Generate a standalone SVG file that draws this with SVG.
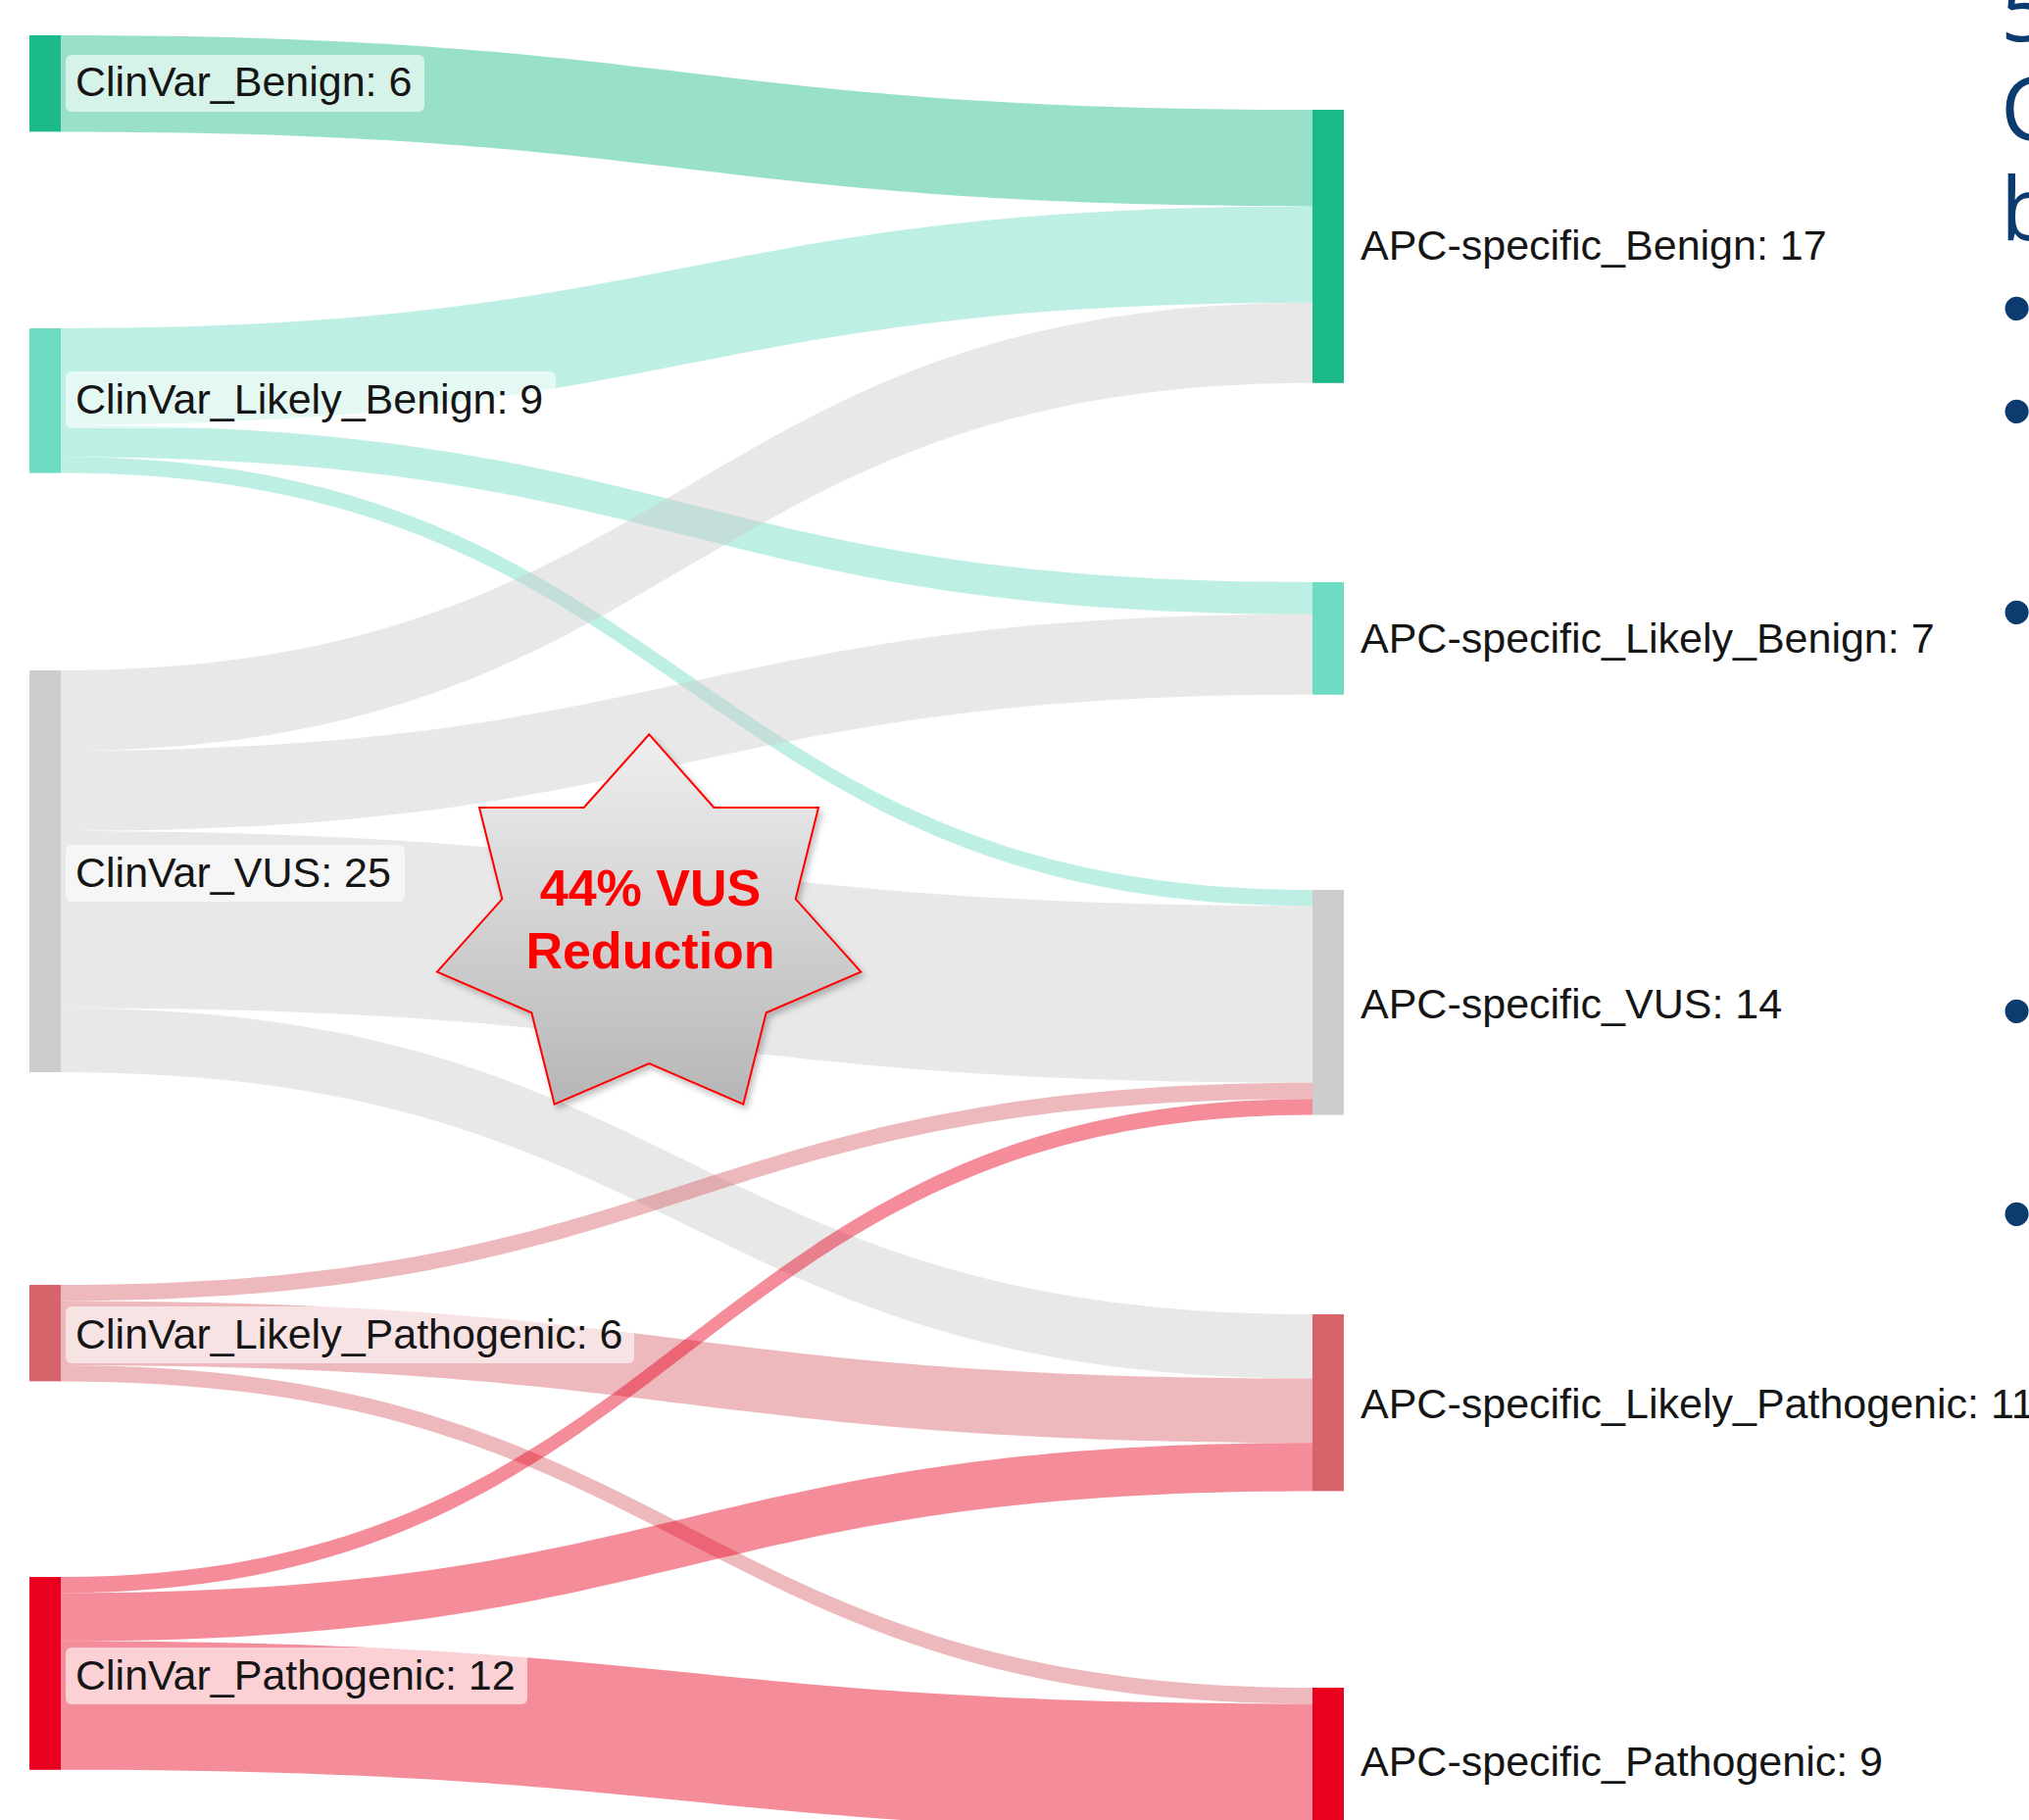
<svg xmlns="http://www.w3.org/2000/svg" width="2070" height="1857" viewBox="0 0 2070 1857">
  <defs>
    <linearGradient id="starGrad" x1="0" y1="749" x2="0" y2="1127" gradientUnits="userSpaceOnUse">
      <stop offset="0" stop-color="#efefef"/>
      <stop offset="1" stop-color="#b6b6b6"/>
    </linearGradient>
    <filter id="shadow" x="-10%" y="-10%" width="130%" height="130%">
      <feDropShadow dx="3" dy="4" stdDeviation="3" flood-color="#000" flood-opacity="0.25"/>
    </filter>
    <style>
      .lbl { font-family: "Liberation Sans", Arial, Helvetica, sans-serif; font-size: 43px; fill: #151515; }
      .lblbox { fill: #ffffff; fill-opacity: 0.6; }
      .link { fill-opacity: 0.45; stroke: none; }
      .c-b { fill: #1cba8b; }
      .c-lb { fill: #6ddcc3; }
      .c-v { fill: #cdcdcd; }
      .c-lp { fill: #d8646b; }
      .c-p { fill: #e9001f; }
      .slide { font-family: "Open Sans", "Noto Sans", sans-serif; font-size: 90px; fill: #0b3b6f; }
      .bullet { font-family: "Liberation Sans", Arial, sans-serif; font-size: 89px; fill: #0b3b6f; }
      .star-text { font-family: "Liberation Sans", Arial, sans-serif; font-size: 52px; font-weight: bold; fill: #ff0000; text-anchor: middle; }
    </style>
  </defs>
  <rect x="0" y="0" width="2070" height="1857" fill="#ffffff"/>

  <g id="connectors">
    <path class="link c-b" d="M62,36 C701,36 701,112 1339,112 L1339,210.4 C701,210.4 701,134.4 62,134.4 Z"/>
    <path class="link c-lb" d="M62,335 C701,335 701,210.4 1339,210.4 L1339,308.8 C701,308.8 701,433.4 62,433.4 Z"/>
    <path class="link c-lb" d="M62,433.4 C701,433.4 701,594 1339,594 L1339,626.8 C701,626.8 701,466.2 62,466.2 Z"/>
    <path class="link c-lb" d="M62,466.2 C701,466.2 701,908 1339,908 L1339,924.4 C701,924.4 701,482.6 62,482.6 Z"/>
    <path class="link c-v" d="M62,684 C701,684 701,308.8 1339,308.8 L1339,390.8 C701,390.8 701,766 62,766 Z"/>
    <path class="link c-v" d="M62,766 C701,766 701,626.8 1339,626.8 L1339,708.8 C701,708.8 701,848 62,848 Z"/>
    <path class="link c-v" d="M62,848 C701,848 701,924.4 1339,924.4 L1339,1104.8 C701,1104.8 701,1028.4 62,1028.4 Z"/>
    <path class="link c-v" d="M62,1028.4 C701,1028.4 701,1341 1339,1341 L1339,1406.6 C701,1406.6 701,1094 62,1094 Z"/>
    <path class="link c-lp" d="M62,1311 C701,1311 701,1104.8 1339,1104.8 L1339,1121.2 C701,1121.2 701,1327.4 62,1327.4 Z"/>
    <path class="link c-lp" d="M62,1327.4 C701,1327.4 701,1406.6 1339,1406.6 L1339,1472.2 C701,1472.2 701,1393 62,1393 Z"/>
    <path class="link c-lp" d="M62,1393 C701,1393 701,1722 1339,1722 L1339,1738.4 C701,1738.4 701,1409.4 62,1409.4 Z"/>
    <path class="link c-p" d="M62,1609 C701,1609 701,1121.2 1339,1121.2 L1339,1137.6 C701,1137.6 701,1625.4 62,1625.4 Z"/>
    <path class="link c-p" d="M62,1625.4 C701,1625.4 701,1472.2 1339,1472.2 L1339,1521.4 C701,1521.4 701,1674.6 62,1674.6 Z"/>
    <path class="link c-p" d="M62,1674.6 C701,1674.6 701,1738.4 1339,1738.4 L1339,1869.6 C701,1869.6 701,1805.8 62,1805.8 Z"/>
  </g>

  <g id="node-clinvar-benign">
    <rect class="c-b" x="30" y="36" width="32" height="98.4"/>
    <rect class="lblbox" x="67" y="56" width="366" height="58" rx="6"/>
    <text class="lbl" x="77" y="98">ClinVar_Benign: 6</text>
  </g>
  <g id="node-clinvar-likely-benign">
    <rect class="c-lb" x="30" y="335" width="32" height="147.6"/>
    <rect class="lblbox" x="67" y="379" width="500" height="58" rx="6"/>
    <text class="lbl" x="77" y="422">ClinVar_Likely_Benign: 9</text>
  </g>
  <g id="node-clinvar-vus">
    <rect class="c-v" x="30" y="684" width="32" height="410"/>
    <rect class="lblbox" x="67" y="862" width="346" height="58" rx="6"/>
    <text class="lbl" x="77" y="905">ClinVar_VUS: 25</text>
  </g>
  <g id="node-clinvar-likely-pathogenic">
    <rect class="c-lp" x="30" y="1311" width="32" height="98.4"/>
    <rect class="lblbox" x="67" y="1333" width="580" height="58" rx="6"/>
    <text class="lbl" x="77" y="1376">ClinVar_Likely_Pathogenic: 6</text>
  </g>
  <g id="node-clinvar-pathogenic">
    <rect class="c-p" x="30" y="1609" width="32" height="196.8"/>
    <rect class="lblbox" x="67" y="1681" width="471" height="58" rx="6"/>
    <text class="lbl" x="77" y="1724">ClinVar_Pathogenic: 12</text>
  </g>

  <g id="node-apc-benign">
    <rect class="c-b" x="1339" y="112" width="32" height="278.8"/>
    <text class="lbl" x="1388" y="265">APC-specific_Benign: 17</text>
  </g>
  <g id="node-apc-likely-benign">
    <rect class="c-lb" x="1339" y="594" width="32" height="114.8"/>
    <text class="lbl" x="1388" y="666">APC-specific_Likely_Benign: 7</text>
  </g>
  <g id="node-apc-vus">
    <rect class="c-v" x="1339" y="908" width="32" height="229.6"/>
    <text class="lbl" x="1388" y="1039">APC-specific_VUS: 14</text>
  </g>
  <g id="node-apc-likely-pathogenic">
    <rect class="c-lp" x="1339" y="1341" width="32" height="180.4"/>
    <text class="lbl" x="1388" y="1447">APC-specific_Likely_Pathogenic: 11</text>
  </g>
  <g id="node-apc-pathogenic">
    <rect class="c-p" x="1339" y="1722" width="32" height="147.6"/>
    <text class="lbl" x="1388" y="1812">APC-specific_Pathogenic: 9</text>
  </g>

  <g id="slide-text">
    <text class="slide" x="2041" y="42">5</text>
    <text class="slide" x="2041" y="143">C</text>
    <text class="slide" x="2041" y="245">b</text>
    <text class="bullet" x="2042" y="344">•</text>
    <text class="bullet" x="2042" y="449">•</text>
    <text class="bullet" x="2042" y="654">•</text>
    <text class="bullet" x="2042" y="1061">•</text>
    <text class="bullet" x="2042" y="1268">•</text>
  </g>

  <g id="star-callout">
    <polygon filter="url(#shadow)" fill="url(#starGrad)" stroke="#ff0000" stroke-width="2" stroke-linejoin="miter"
      points="662.3,749.3 728.3,824 835,824 811.7,917.3 878.3,991.7 781.7,1033.3 758.3,1126.7 662.3,1085 565.7,1126.7 542.3,1033.3 446,991.7 512.3,917.3 489,824 595.7,824"/>
    <text class="star-text" x="663.5" y="924">44% VUS</text>
    <text class="star-text" x="663.5" y="988">Reduction</text>
  </g>
</svg>
